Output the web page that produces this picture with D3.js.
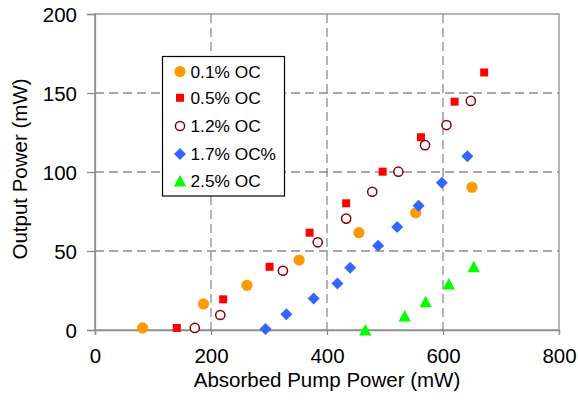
<!DOCTYPE html>
<html>
<head>
<meta charset="utf-8">
<script src="https://cdn.jsdelivr.net/npm/d3@7"></script>
<style>
  body { margin: 0; background: #fff; }
  svg { display: block; font-family: "Liberation Sans", Arial, Helvetica, sans-serif; }
</style>
</head>
<body>
<svg id="chart" width="578" height="402"></svg>
<script>
// absorbed pump power (mW) / output power (mW), one pair of arrays per coupler
const oc01X = [82, 187, 262, 352, 455, 553, 650]
const oc01Y = [1.3, 16.5, 28.3, 44.3, 61.6, 74.2, 90.3]
const oc05X = [141, 221, 301, 370, 433, 496, 562, 620, 671]
const oc05Y = [1.3, 19.4, 40, 61.6, 80.2, 100.2, 122, 144.5, 163]
const oc12X = [172, 216, 324, 384, 433, 478, 523, 569, 606, 648]
const oc12Y = [1.3, 9.5, 37.5, 55.5, 70.5, 87.5, 100.2, 117, 129.7, 145]
const oc17X = [294, 330, 377, 418, 440, 488, 521, 558, 598, 642]
const oc17Y = [0.6, 9.9, 20, 29.5, 39.4, 53.4, 65.2, 78.7, 93.2, 110]
const oc25X = [466, 534, 570, 610, 653]
const oc25Y = [0, 8.9, 17.9, 29.1, 40]

const labels = ["0.1% OC", "0.5% OC", "1.2% OC", "1.7% OC%", "2.5% OC"]
const xTicks = [0, 200, 400, 600, 800]
const yTicks = [0, 50, 100, 150, 200]

const series = [
    {name: labels[0], xs: oc01X, ys: oc01Y, shape: "circle", fill: "#ff9900"},
    {name: labels[1], xs: oc05X, ys: oc05Y, shape: "square", fill: "#ff0000"},
    {name: labels[2], xs: oc12X, ys: oc12Y, shape: "open", fill: "#fff"},
    {name: labels[3], xs: oc17X, ys: oc17Y, shape: "diamond", fill: "#3366ff"},
    {name: labels[4], xs: oc25X, ys: oc25Y, shape: "triangle", fill: "#00ff00"}
]

const svg = d3.select("#chart")
const margin = {left: 95, top: 14, right: 19, bottom: 72}
const W = 578, H = 402

const x = d3.scaleLinear().domain([0, 800]).range([margin.left, W - margin.right])
const y = d3.scaleLinear().domain([0, 200]).range([H - margin.bottom, margin.top])

// grid
const grid = svg.append("g")
grid.selectAll("line.vx")
    .data(xTicks.slice(1, -1))
    .enter().append("line")
    .attr("x1", d => x(d)).attr("x2", d => x(d))
    .attr("y1", y(200)).attr("y2", y(0))
grid.selectAll("line.hy")
    .data(yTicks.slice(1, -1))
    .enter().append("line")
    .attr("x1", x(0)).attr("x2", x(800))
    .attr("y1", d => y(d)).attr("y2", d => y(d))
grid.selectAll("line")
    .attr("stroke", "#8c8c8c")
    .attr("stroke-width", 1.3)
    .attr("stroke-dasharray", "9,5")

// frame
svg.append("rect")
    .attr("x", x(0)).attr("y", y(200))
    .attr("width", x(800) - x(0)).attr("height", y(0) - y(200))
    .attr("fill", "none").attr("stroke", "#8c8c8c").attr("stroke-width", 1.3)

const xAxis = svg.append("g")
    .attr("transform", `translate(0,${y(0)})`)
    .call(d3.axisBottom(x).tickValues(xTicks).tickSize(5).tickPadding(13))
const yAxis = svg.append("g")
    .attr("transform", `translate(${x(0)},0)`)
    .call(d3.axisLeft(y).tickValues(yTicks).tickSize(8).tickPadding(10))

for (const ax of [xAxis, yAxis]) {
    ax.select(".domain").attr("stroke", "#8c8c8c").attr("stroke-width", 1.3)
    ax.selectAll(".tick line").attr("stroke", "#8c8c8c").attr("stroke-width", 1.3)
    ax.selectAll(".tick text")
        .attr("font-size", 20.5)
        .attr("font-family", "Liberation Sans, Arial, sans-serif")
        .attr("fill", "#000")
}
yAxis.selectAll(".tick text").attr("dy", "0.36em")

svg.append("text")
    .attr("x", (x(0) + x(800)) / 2).attr("y", 387)
    .attr("text-anchor", "middle")
    .attr("font-size", 20.5)
    .text("Absorbed Pump Power (mW)")
svg.append("text")
    .attr("transform", `translate(27,169) rotate(-90)`)
    .attr("text-anchor", "middle")
    .attr("font-size", 20.5)
    .text("Output Power (mW)")

function drawMarker(g, s) {
    if (s.shape === "circle") {
        g.append("circle").attr("r", 5.6).attr("fill", s.fill)
    } else if (s.shape === "open") {
        g.append("circle").attr("r", 4.6).attr("fill", "#fff")
            .attr("stroke", "#8b0000").attr("stroke-width", 1.5)
    } else if (s.shape === "square") {
        g.append("rect").attr("x", -4).attr("y", -4).attr("width", 8).attr("height", 8)
            .attr("fill", s.fill)
    } else if (s.shape === "diamond") {
        g.append("path").attr("d", "M0,-6L6,0L0,6L-6,0Z").attr("fill", s.fill)
    } else {
        g.append("path").attr("d", "M0,-6L6.2,5.5L-6.2,5.5Z").attr("fill", s.fill)
    }
}

// points
for (const s of series) {
    const pts = s.xs.map((v, i) => [v, s.ys[i]])
    const g = svg.append("g")
    pts.forEach(p => {
        const m = g.append("g").attr("transform", `translate(${x(p[0])},${y(p[1])})`)
        drawMarker(m, s)
    })
}

// legend
const legend = svg.append("g").attr("transform", "translate(162.5,56.5)")
legend.append("rect")
    .attr("width", 122).attr("height", 139.5)
    .attr("fill", "#fff").attr("stroke", "#000").attr("stroke-width", 1.2)
const rowY = [15, 41.3, 69.5, 97.5, 124.5]
series.forEach((s, i) => {
    const row = legend.append("g").attr("transform", `translate(17.5,${rowY[i]})`)
    drawMarker(row, s)
    row.append("text")
        .attr("x", 10.5).attr("dy", "0.36em")
        .attr("font-size", 17.3)
        .text(s.name)
})
</script>
</body>
</html>
